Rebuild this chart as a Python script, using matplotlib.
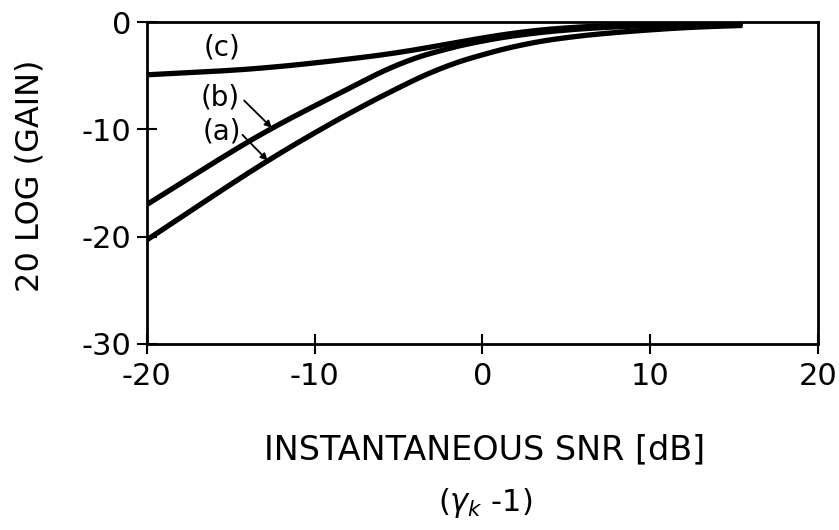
import numpy as np
import matplotlib.pyplot as plt

# ==========================================
# DATA
# ==========================================

snr_db = [-20, -15, -12.5, -10, -7.5, -5, -2.5, 0, 2.5, 5, 7.5, 10, 12.5, 15.5]

gain_a = [-20.3, -15.1, -12.6, -10.3, -8.1, -6.1, -4.2, -3.0, -2.0, -1.4, -1.0, -0.7, -0.45, -0.3]
gain_b = [-17.0, -12.1, -9.8, -7.8, -5.8, -3.8, -2.6, -1.7, -1.1, -0.7, -0.45, -0.3, -0.2, -0.1]
gain_c = [-4.9, -4.5, -4.2, -3.8, -3.35, -2.85, -2.15, -1.45, -0.85, -0.5, -0.3, -0.2, -0.15, -0.1]

x_ticks = [-20, -10, 0, 10, 20]
y_ticks = [0, -10, -20, -30]

# ==========================================
# PLOT
# ==========================================

plt.rcParams["font.family"] = "DejaVu Sans"

fig = plt.figure(figsize=(8.39, 5.30), dpi=100)
ax = fig.add_axes([0.175, 0.351, 0.800, 0.607])

# moving-average smoothing of the piecewise-linear curves
xs = np.linspace(snr_db[0], snr_db[-1], 300)
k = 31
for g in (gain_a, gain_b, gain_c):
    ys = np.interp(xs, snr_db, g)
    padded = np.pad(ys, k // 2, mode="reflect", reflect_type="odd")
    ys = np.convolve(padded, np.ones(k) / k, mode="valid")
    ax.plot(xs, ys, color="black", linewidth=3.8, solid_capstyle="butt")

ax.set_xlim(-20, 20)
ax.set_ylim(-30, 0)

ax.set_xticks(x_ticks)
ax.set_xticklabels(["-20", "-10", "0", "10", "20"])
ax.set_yticks(y_ticks)
ax.set_yticklabels(["0", "-10", "-20", "-30"])

ax.tick_params(direction="inout", length=14, width=1.5, labelsize=22,
               color="black")
ax.tick_params(axis="y", pad=4)
ax.tick_params(axis="x", pad=6)

for s in ax.spines.values():
    s.set_linewidth(2.0)
    s.set_color("black")

fig.text(30 / 839, 1 - 176 / 530, "20 LOG (GAIN)", fontsize=23,
         rotation=90, ha="center", va="center")
fig.text(485 / 839, 1 - 450 / 530, "INSTANTANEOUS SNR [dB]", fontsize=24,
         ha="center", va="center")
fig.text(485 / 839, 1 - 503 / 530, r"($\gamma_k$ -1)", fontsize=22,
         ha="center", va="center")

# curve labels
ax.text(-15.5, -2.4, "(c)", fontsize=20, ha="center", va="center")
ax.text(-15.65, -7.0, "(b)", fontsize=20, ha="center", va="center")
ax.text(-15.5, -10.2, "(a)", fontsize=20, ha="center", va="center")

xb = -12.55
ax.annotate("", xy=(xb, np.interp(xb, snr_db, gain_b)), xytext=(-14.2, -7.3),
            arrowprops=dict(arrowstyle="-|>", color="black", lw=1.3,
                            mutation_scale=10, shrinkA=0, shrinkB=0))
xa = -12.8
ax.annotate("", xy=(xa, np.interp(xa, snr_db, gain_a)), xytext=(-14.3, -10.5),
            arrowprops=dict(arrowstyle="-|>", color="black", lw=1.3,
                            mutation_scale=10, shrinkA=0, shrinkB=0))

plt.savefig("out.png", dpi=100)
